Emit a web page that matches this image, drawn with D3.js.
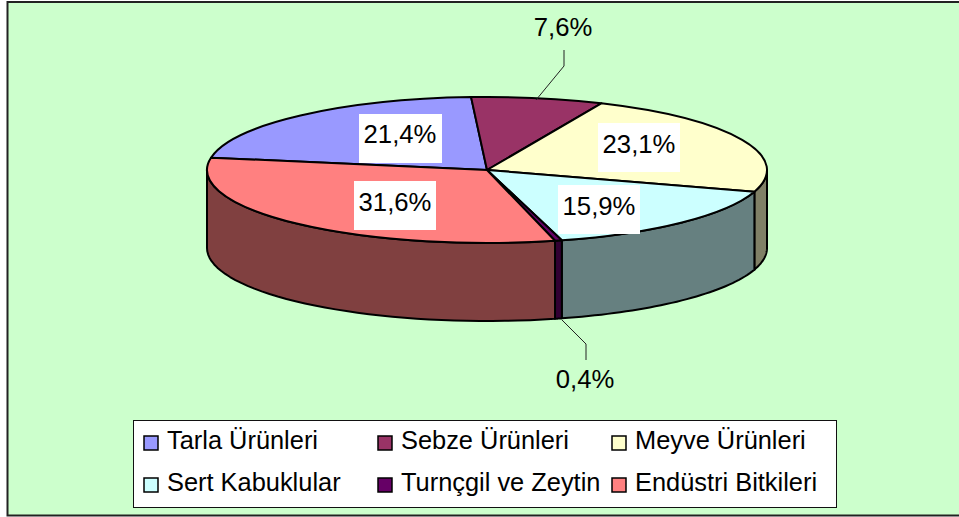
<!DOCTYPE html>
<html><head><meta charset="utf-8">
<script src="https://cdn.jsdelivr.net/npm/d3@7/dist/d3.min.js"></script>
<style>html,body{margin:0;padding:0;background:#fff}svg{display:block}text{font-family:"Liberation Sans",Arial,sans-serif;fill:#000}</style>
</head><body><svg id="c" width="959" height="517"></svg>
<script>
const categories=["Tarla Ürünleri","Sebze Ürünleri","Meyve Ürünleri","Sert Kabuklular","Turnçgil ve Zeytin","Endüstri Bitkileri"];
const values=[21.4,7.6,23.1,15.9,0.4,31.6];
const labels=["21,4%","7,6%","23,1%","15,9%","0,4%","31,6%"];
const topColors=["#9999FF","#993366","#FFFFCC","#CCFFFF","#660066","#FF8080"];
const sideColors=["#4d4d80","#4d1a33","#808066","#668080","#330033","#804040"];

const svg=d3.select("#c");
svg.append("rect").attr("x",7.5).attr("y",2).attr("width",960).attr("height",513.5)
  .attr("fill","#CCFFCC").attr("stroke","#222").attr("stroke-width",2);

const cx=487,cy=170,rx=280,ry=73,depth=78;
const startAngle=-80.3*Math.PI/180;
const pie=d3.pie().value(d=>d).sort(null).startAngle(startAngle).endAngle(startAngle+2*Math.PI);
const arcs=pie(values);
const px=a=>cx+rx*Math.sin(a), py=a=>cy-ry*Math.cos(a);

// Wall: only the part of each slice facing the viewer (pi/2 .. 3pi/2)
const wall=d3.area().x(a=>px(a)).y0(a=>py(a)).y1(a=>py(a)+depth);
const front=[[Math.PI/2,1.5*Math.PI],[2.5*Math.PI,3.5*Math.PI]];
const wallG=svg.append("g");
arcs.forEach((d,i)=>{
  front.forEach(([f0,f1])=>{
    const a0=Math.max(d.startAngle,f0),a1=Math.min(d.endAngle,f1);
    if(a1<=a0)return;
    wallG.append("path").attr("d",wall(d3.range(0,41).map(k=>a0+(a1-a0)*k/40)))
      .attr("fill",sideColors[i]).attr("stroke","#000").attr("stroke-width",2).attr("stroke-linejoin","round");
  });
});
// Top face
const arc=d3.arc().innerRadius(0).outerRadius(rx);
const topG=svg.append("g").attr("transform",`translate(${cx},${cy}) scale(1,${ry/rx})`);
topG.selectAll("path").data(arcs).join("path").attr("d",arc)
  .attr("fill",(d,i)=>topColors[i]).attr("stroke","#000").attr("stroke-width",2)
  .attr("stroke-linejoin","round").attr("vector-effect","non-scaling-stroke");

// Leaders
const leader=d3.line();
[[[536,100],[564,66],[564,50]],[[562,320],[586,344],[586,360]]].forEach(p=>{
  svg.append("path").attr("d",leader(p)).attr("fill","none").attr("stroke","#222").attr("stroke-width",1);
});

// Data labels
const pos=[
 {x:400,y:143,box:[359,114,83,49]},
 {x:563,y:36},
 {x:639,y:153,box:[598,123,82,49]},
 {x:599,y:215,box:[558,185,82,49]},
 {x:585,y:388},
 {x:395,y:211,box:[354,181,82,49]}];
labels.forEach((t,i)=>{
  const p=pos[i];
  if(p.box)svg.append("rect").attr("x",p.box[0]).attr("y",p.box[1]).attr("width",p.box[2]).attr("height",p.box[3]).attr("fill","#fff");
  svg.append("text").attr("x",p.x).attr("y",p.y).attr("text-anchor","middle").attr("font-size",25.7).text(t);
});

// Legend
svg.append("rect").attr("x",133.5).attr("y",420.5).attr("width",703).attr("height",87)
  .attr("fill","#fff").attr("stroke","#111").attr("stroke-width",1);
const colX=[144,378,612],rowY=[436,478];
categories.forEach((c,i)=>{
  const x=colX[i%3],y=rowY[Math.floor(i/3)];
  svg.append("rect").attr("x",x).attr("y",y).attr("width",14).attr("height",14)
    .attr("fill",topColors[i]).attr("stroke","#000").attr("stroke-width",1.5);
  svg.append("text").attr("x",x+23).attr("y",y+12.5).attr("font-size",25.4).text(c);
});
</script></body></html>
